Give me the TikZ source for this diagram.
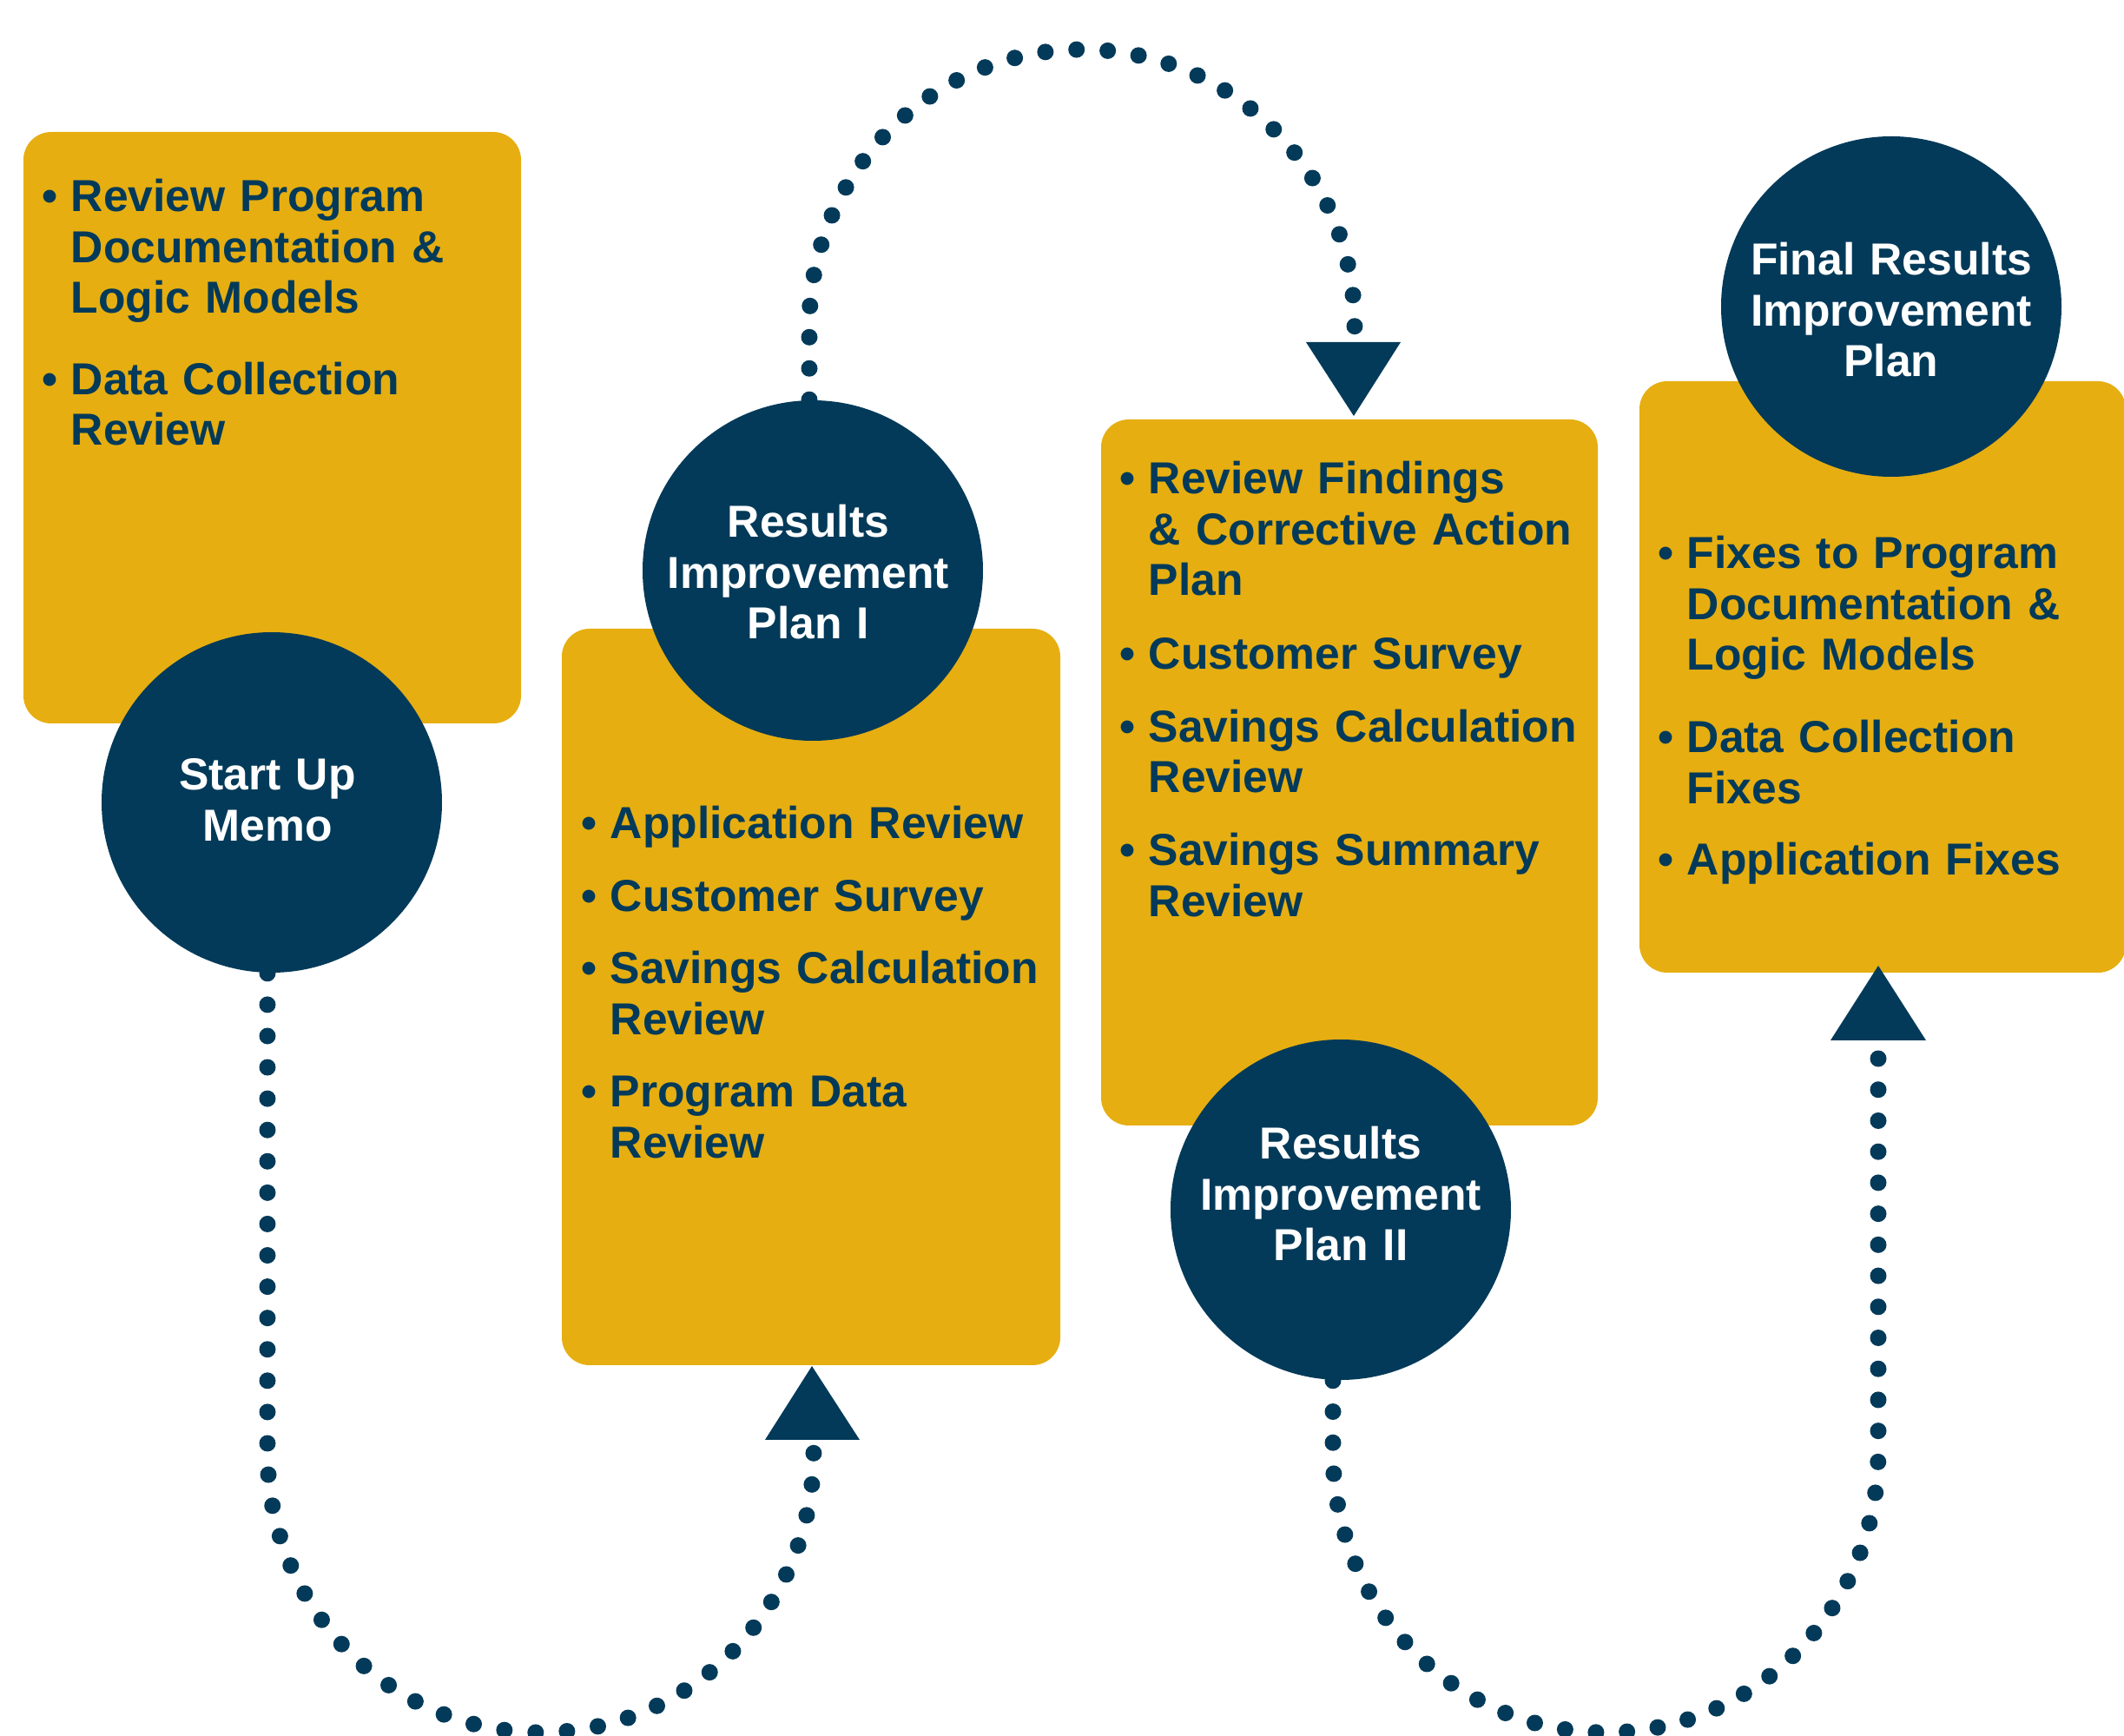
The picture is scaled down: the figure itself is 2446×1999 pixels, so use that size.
\documentclass[tikz,border=0pt]{standalone}
\usepackage{fontspec}
\setmainfont{Liberation Sans}
\definecolor{navy}{RGB}{3,58,89}
\definecolor{gold}{RGB}{230,174,17}
\newcommand{\itm}[1]{\hangindent=8.25pt\hangafter=1\noindent\makebox[8.25pt][l]{•}#1\par}
\tikzset{
  gbox/.style={fill=gold, rounded corners=8pt, inner sep=0pt, draw=none},
  circ/.style={circle, fill=navy, minimum size=98pt, inner sep=0pt},
  btext/.style={anchor=base west, inner sep=0pt, text width=140pt, align=left, text=navy,
    font=\bfseries\fontsize{12.9pt}{14.625pt}\selectfont},
  ctext/.style={anchor=base, inner sep=0pt, text width=92pt, align=center, text=white,
    font=\bfseries\fontsize{12.9pt}{14.625pt}\selectfont},
  dotline/.style={draw=navy, line width=4.75pt, line cap=round},
  tri/.style={fill=navy, draw=none}
}
\begin{document}
\begin{tikzpicture}[x=0.25pt, y=-0.25pt]
\useasboundingbox (0,0) rectangle (2446,1999);

% boxes
\node[gbox, minimum width=143.25pt, minimum height=170.25pt] (boxA) at (313.5,492.5) {};
\node[gbox, minimum width=143.5pt, minimum height=212pt] (boxB) at (934,1148) {};
\node[gbox, minimum width=143pt, minimum height=203.25pt] (boxC) at (1554,889.5) {};
\node[gbox, minimum width=140pt, minimum height=170.25pt] (boxD) at (2168,779.5) {};

% box texts
\node[btext] (txtA) at (48,244) {\itm{Review Program\newline Documentation \&\newline Logic Models}\vspace{8.75pt}\itm{Data Collection\newline Review}};
\node[btext] (txtB) at (669,966) {\itm{Application Review}\vspace{6.25pt}\itm{Customer Survey}\vspace{6.25pt}\itm{Savings Calculation\newline Review}\vspace{6.25pt}\itm{Program Data\newline Review}};
\node[btext] (txtC) at (1289,569) {\itm{Review Findings\newline \& Corrective Action\newline Plan}\vspace{6.4pt}\itm{Customer Survey}\vspace{6.4pt}\itm{Savings Calculation\newline Review}\vspace{6.4pt}\itm{Savings Summary\newline Review}};
\node[btext] (txtD) at (1909,655) {\itm{Fixes to Program\newline Documentation \&\newline Logic Models}\vspace{9.1pt}\itm{Data Collection\newline Fixes}\vspace{5.9pt}\itm{Application Fixes}};

% arrowheads
\coordinate (a1tip) at (1559,479);
\coordinate (a2tip) at (935,1573);
\coordinate (a3tip) at (2163,1112);
\fill[tri] (1504,394) -- (1613,394) -- (a1tip) -- cycle;
\fill[tri] (881,1658) -- (990,1658) -- (a2tip) -- cycle;
\fill[tri] (2108,1198) -- (2218,1198) -- (a3tip) -- cycle;
\coordinate (a1tail) at (1560,380);
\coordinate (a2tail) at (937,1668);
\coordinate (a3tail) at (2163,1214);

% circles
\node[circ] (startup) at (313,924) {};
\node[circ] (rip1) at (936,657) {};
\node[circ] (rip2) at (1544,1393) {};
\node[circ] (final) at (2178,353) {};

\node[ctext] (startupT) at (308,910) {Start Up\\Memo};
\node[ctext] (rip1T) at (931,619) {Results\\Improvement\\Plan I};
\node[ctext] (rip2T) at (1544,1335) {Results\\Improvement\\Plan II};
\node[ctext] (finalT) at (2178,317) {Final Results\\Improvement\\Plan};

% dotted connectors
\draw[dotline, dash pattern=on 0pt off 9.02pt] ([xshift=-1.25pt]startup.south) -- (308,1672)
  arc[start angle=180, end angle=0, x radius=314.5, y radius=323] -- (a2tail);
\draw[dotline, dash pattern=on 0pt off 8.99pt] ([xshift=-1pt]rip1.north) -- (932,375)
  arc[start angle=180, end angle=360, x radius=314, y radius=318] -- (a1tail);
\draw[dotline, dash pattern=on 0pt off 8.93pt] ([xshift=-2.25pt]rip2.south) -- (1535,1672)
  arc[start angle=180, end angle=0, x radius=314, y radius=323] -- (a3tail);
\end{tikzpicture}
\end{document}
